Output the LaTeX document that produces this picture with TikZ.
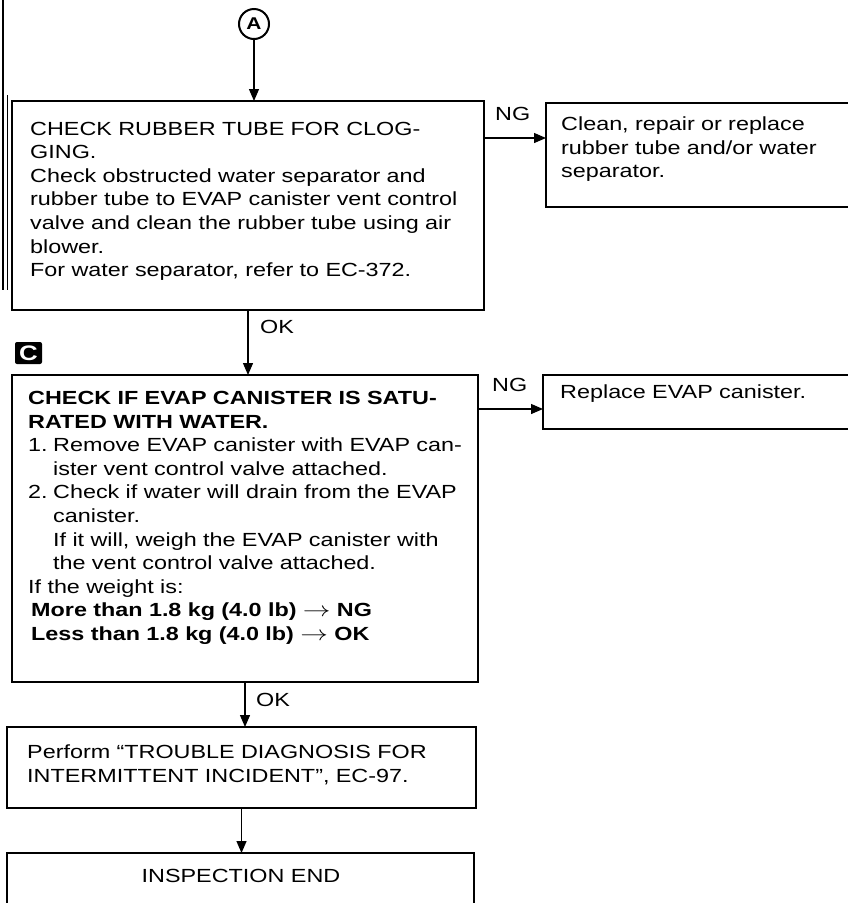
\documentclass[tikz,border=0pt]{standalone}
\usepackage{fontspec}
\setmainfont{Liberation Sans}[FakeStretch=1.23]
\usetikzlibrary{arrows.meta}
\newcommand{\thinarrow}{\scalebox{1.6}[1.2]{$\rightarrow$}}
\tikzset{
  box/.style={draw, line width=1.3pt, inner sep=0pt, outer sep=0pt, anchor=north west},
  txt/.style={inner sep=0pt, anchor=base west, align=left, text width=470pt, font=\fontsize{19}{23.6}\selectfont},
  lbl/.style={inner sep=0pt, anchor=base west, font=\fontsize{19}{20}\selectfont},
  arr/.style={line width=1.3pt, -{Triangle[length=12pt,width=10pt]}},
}
\begin{document}
\begin{tikzpicture}[x=1pt,y=-1pt]
\useasboundingbox (0,0) rectangle (848,903);
\clip (0,0) rectangle (848,903);
% scan edge lines
\draw[line width=1.2pt] (3,0) -- (3,290);
\draw[line width=1pt] (7,95) -- (7,290);
% start marker
\node[circle, draw, line width=2pt, minimum size=30pt, inner sep=0pt, font=\bfseries\fontsize{17}{17}\selectfont] (A) at (254,24) {A};
% boxes
\node[box, minimum width=472pt, minimum height=209pt] (b1) at (12,101) {};
\node[box, minimum width=320pt, minimum height=104pt] (r1) at (546,103) {};
\node[box, minimum width=466pt, minimum height=307pt] (b2) at (12,375) {};
\node[box, minimum width=320pt, minimum height=54pt] (r2) at (543,375) {};
\node[box, minimum width=469pt, minimum height=81pt] (b3) at (7,727) {};
\node[box, minimum width=467pt, minimum height=62pt] (b4) at (7,853) {};
% C marker
\node[fill=black, rounded corners=2pt, minimum width=27pt, minimum height=22pt, inner sep=0pt, text=white, font=\bfseries\fontsize{21}{21}\selectfont] (cm) at (28.5,353) {C};
% texts
\node[txt] (t1) at (30,135) {CHECK RUBBER TUBE FOR CLOG-\\
GING.\\
Check obstructed water separator and\\
rubber tube to EVAP canister vent control\\
valve and clean the rubber tube using air\\
blower.\\
For water separator, refer to EC-372.};
\node[txt, text width=300pt] (tr1) at (561,130.5) {Clean, repair or replace\\
rubber tube and/or water\\
separator.};
\node[txt] (t2) at (28,404.5) {\textbf{CHECK IF EVAP CANISTER IS SATU-}\\
\textbf{RATED WITH WATER.}\\
\makebox[25pt][l]{1.}Remove EVAP canister with EVAP can-\\
\hspace*{25pt}ister vent control valve attached.\\
\makebox[25pt][l]{2.}Check if water will drain from the EVAP\\
\hspace*{25pt}canister.\\
\hspace*{25pt}If it will, weigh the EVAP canister with\\
\hspace*{25pt}the vent control valve attached.\\
If the weight is:\\
\hspace*{3pt}\textbf{More than 1.8 kg (4.0 lb) \thinarrow\ NG}\\
\hspace*{3pt}\textbf{Less than 1.8 kg (4.0 lb) \thinarrow\ OK}};
\node[txt, text width=300pt] (tr2) at (560,398.5) {Replace EVAP canister.};
\node[txt] (t3) at (27,758.5) {Perform ``TROUBLE DIAGNOSIS FOR\\
INTERMITTENT INCIDENT'', EC-97.};
\node[inner sep=0pt, anchor=base, font=\fontsize{19}{23.6}\selectfont] (t4) at (241,882.5) {INSPECTION END};
% labels
\node[lbl] (ng1l) at (495,120) {NG};
\node[lbl] (ng2l) at (492,391.5) {NG};
\node[lbl] (ok1l) at (260,333.3) {OK};
\node[lbl] (ok2l) at (256,706.7) {OK};
% connectors
\coordinate (ng1) at (0,138);
\coordinate (ng2) at (0,409);
\draw[arr] (A) -- (A |- b1.north);
\draw[arr] (b1.south) -- (b1.south |- b2.north);
\draw[arr] (b2.south) -- (b2.south |- b3.north);
\draw[arr] (b3.south) -- (b3.south |- b4.north);
\draw[arr] (b1.east |- ng1) -- (r1.west |- ng1);
\draw[arr] (b2.east |- ng2) -- (r2.west |- ng2);
\end{tikzpicture}
\end{document}
